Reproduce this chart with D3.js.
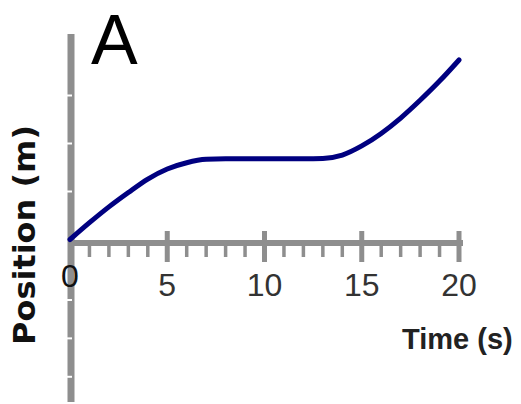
<!DOCTYPE html>
<html><head><meta charset="utf-8">
<script src="https://cdn.jsdelivr.net/npm/d3@7"></script>
<style>html,body{margin:0;padding:0;background:#fff;}svg{display:block;}</style>
</head><body>
<svg id="c" width="521" height="404"></svg>
<script>
// Data
const times = [0,1,2,3,4,5,6,7,8,9,10,11,12,13,14,15,16,17,18,19,20];
const positions = [0,3.5,6.8,9.8,12.6,14.7,16.0,16.7,16.8,16.8,16.8,16.8,16.8,16.9,17.6,19.5,22.1,25.3,29.0,33.0,37.4];
const xMajorTicks = [0,5,10,15,20];
const xMinorTicks = [1,2,3,4,6,7,8,9,11,12,13,14,16,17,18,19];
const yTicks = [30,20,10,-12.6,-20.6,-28.6];
const panelLabel = "A";
const xTitle = "Time (s)";
const yTitle = "Position (m)";

const svg = d3.select("#c");
const x = d3.scaleLinear().domain([0,20]).range([70,459]);
const y = d3.scaleLinear().domain([0,40]).range([239.5,47.5]);
const grey = "#8e8e8e";

// y axis line
svg.append("line").attr("x1",x(0)+1).attr("x2",x(0)+1).attr("y1",34).attr("y2",402)
  .attr("stroke",grey).attr("stroke-width",7);
// y notches
svg.selectAll(".yn").data(yTicks).enter().append("line")
  .attr("x1",x(0)-3).attr("x2",x(0)+2).attr("y1",d=>y(d)).attr("y2",d=>y(d))
  .attr("stroke","#fff").attr("stroke-width",2);

// x axis line
const ax = y(0)+3.5;
svg.append("line").attr("x1",x(0)).attr("x2",x(20)+4).attr("y1",ax).attr("y2",ax)
  .attr("stroke",grey).attr("stroke-width",6);
// minor ticks
svg.selectAll(".mn").data(xMinorTicks).enter().append("line")
  .attr("x1",d=>x(d)).attr("x2",d=>x(d)).attr("y1",ax).attr("y2",ax+14)
  .attr("stroke",grey).attr("stroke-width",3.5);
// major ticks
svg.selectAll(".mj").data(xMajorTicks.slice(1)).enter().append("line")
  .attr("x1",d=>x(d)).attr("x2",d=>x(d)).attr("y1",ax-12).attr("y2",ax+19)
  .attr("stroke",grey).attr("stroke-width",5);

// tick labels
svg.selectAll(".tl").data(xMajorTicks).enter().append("text")
  .attr("x",d=>x(d)).attr("y",(d,i)=>i===0?287:296)
  .attr("text-anchor","middle")
  .attr("font-family","Liberation Sans, Arial, sans-serif")
  .attr("font-size",32)
  .attr("fill",(d,i)=>i===0?"#111":"#333")
  .text(d=>d);

// line
const line = d3.line().x((d,i)=>x(times[i])).y(d=>y(d)).curve(d3.curveMonotoneX);
svg.append("path").datum(positions).attr("d",line)
  .attr("fill","none").attr("stroke","#000080").attr("stroke-width",5)
  .attr("stroke-linecap","round");

// titles
svg.append("text").attr("x",91).attr("y",64)
  .attr("font-family","Liberation Sans, Arial, sans-serif").attr("font-size",70)
  .attr("fill","#000").text(panelLabel);

svg.append("text").attr("x",402).attr("y",349)
  .attr("font-family","Liberation Sans, Arial, sans-serif").attr("font-size",29).attr("font-weight","bold")
  .attr("fill","#222")
  .text(xTitle);

svg.append("text").attr("transform","translate(35,235) rotate(-90)")
  .attr("text-anchor","middle")
  .attr("font-family","DejaVu Sans, sans-serif").attr("font-size",31).attr("font-weight","bold")
  .attr("fill","#111").attr("textLength",220).attr("lengthAdjust","spacingAndGlyphs")
  .text(yTitle);
</script>
</body></html>
